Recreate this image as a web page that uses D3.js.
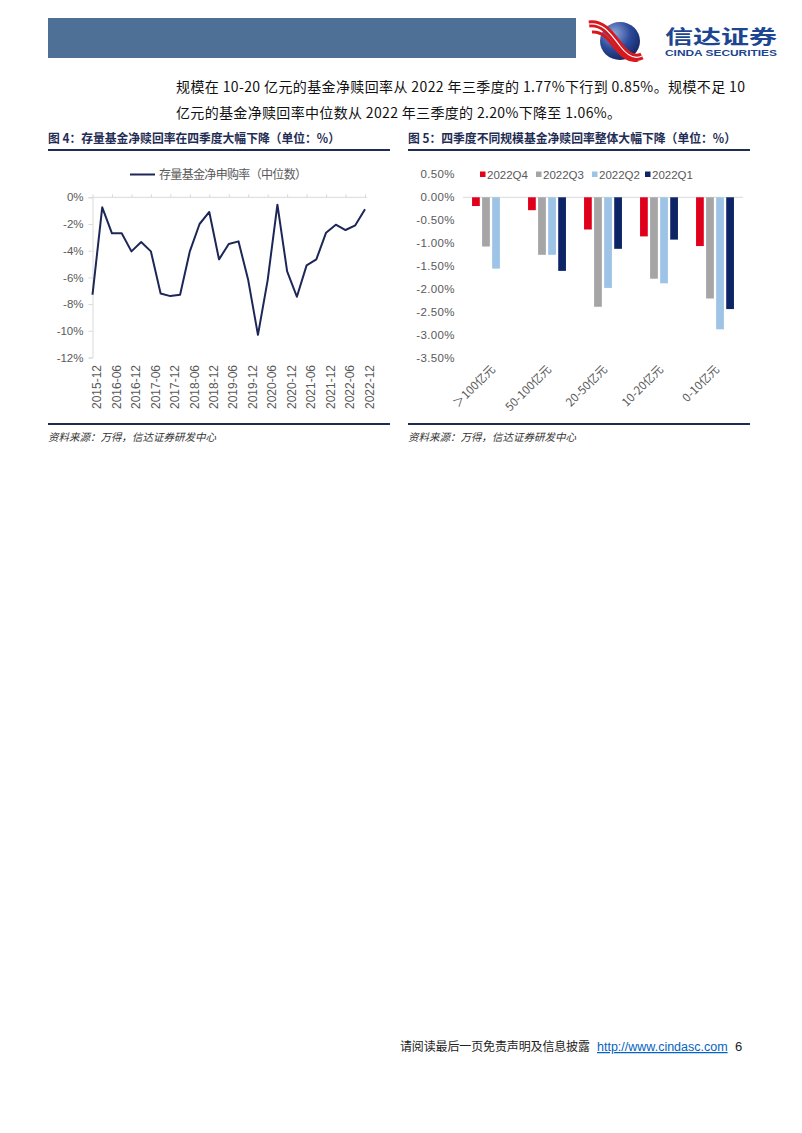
<!DOCTYPE html>
<html><head><meta charset="utf-8">
<script src="https://cdn.jsdelivr.net/npm/d3@7"></script>
<style>
html,body{margin:0;padding:0;background:#fff;}
svg text{font-family:"Noto Sans CJK SC","Noto Sans",sans-serif;}
</style></head>
<body><svg id="page" width="802" height="1133"></svg>
<script>
// ---------- data ----------
const quarters = ["2015-12","2016-03","2016-06","2016-09","2016-12","2017-03","2017-06","2017-09","2017-12","2018-03","2018-06","2018-09","2018-12","2019-03","2019-06","2019-09","2019-12","2020-03","2020-06","2020-09","2020-12","2021-03","2021-06","2021-09","2021-12","2022-03","2022-06","2022-09","2022-12"];
const netRedemption = [-7.3,-0.75,-2.7,-2.7,-4.05,-3.35,-4.05,-7.2,-7.4,-7.3,-4.05,-2.0,-1.1,-4.65,-3.5,-3.3,-6.2,-10.3,-6.2,-0.55,-5.55,-7.45,-5.1,-4.65,-2.65,-2.05,-2.45,-2.1,-0.9];
const lineTicks = [0,-2,-4,-6,-8,-10,-12];
const lineTickLabels = ["0%","-2%","-4%","-6%","-8%","-10%","-12%"];
const lineSeriesName = "存量基金净申购率（中位数）";

const sizeCats = ["＞100亿元","50-100亿元","20-50亿元","10-20亿元","0-10亿元"];
const seriesNames = ["2022Q4","2022Q3","2022Q2","2022Q1"];
const q4 = [-0.19,-0.28,-0.70,-0.85,-1.06];
const q3 = [-1.07,-1.25,-2.38,-1.77,-2.20];
const q2 = [-1.55,-1.25,-1.97,-1.87,-2.87];
const q1 = [null,-1.60,-1.12,-0.92,-2.43];
const barTicks = [0.5,0,-0.5,-1,-1.5,-2,-2.5,-3,-3.5];
const barTickLabels = ["0.50%","0.00%","-0.50%","-1.00%","-1.50%","-2.00%","-2.50%","-3.00%","-3.50%"];
const seriesColors = ["#e0001b","#a5a5a5","#9dc3e6","#0d2466"];

const para1 = "规模在 10-20 亿元的基金净赎回率从 2022 年三季度的 1.77%下行到 0.85%。规模不足 10";
const para2 = "亿元的基金净赎回率中位数从 2022 年三季度的 2.20%下降至 1.06%。";
const title1 = "图 4：存量基金净赎回率在四季度大幅下降（单位：%）";
const title2 = "图 5：四季度不同规模基金净赎回率整体大幅下降（单位：%）";
const sourceText = "资料来源：万得，信达证券研发中心";

// ---------- page ----------
const svg = d3.select("#page");
svg.append("rect").attr("width",802).attr("height",1133).attr("fill","#fff");

// header
svg.append("rect").attr("x",48).attr("y",18).attr("width",528).attr("height",40).attr("fill","#4e7097");
const defs = svg.append("defs");
const rg = defs.append("radialGradient").attr("id","sph").attr("cx","35%").attr("cy","30%").attr("r","75%");
rg.append("stop").attr("offset","0%").attr("stop-color","#8fa6d8");
rg.append("stop").attr("offset","55%").attr("stop-color","#2d4a9a");
rg.append("stop").attr("offset","100%").attr("stop-color","#142664");
svg.append("ellipse").attr("cx",620).attr("cy",41).attr("rx",20).attr("ry",19).attr("fill","url(#sph)");
const rib = svg.append("g");
rib.append("path").attr("d","M589,24 C604,22 612,36 620,46 C626,54 634,60 642,56").attr("fill","none").attr("stroke","#d7191f").attr("stroke-width",7);
rib.append("path").attr("d","M589,24 C604,22 612,36 620,46 C626,54 634,60 642,56").attr("fill","none").attr("stroke","#fff").attr("stroke-width",1.2);
rib.append("path").attr("d","M592,32 C604,31 610,42 617,50 C622,56 630,62 638,60").attr("fill","none").attr("stroke","#d7191f").attr("stroke-width",3);
svg.append("text").attr("x",665).attr("y",44).attr("font-size",19).attr("font-weight",700).attr("fill","#1c4592")
  .attr("textLength",112).attr("lengthAdjust","spacingAndGlyphs").text("信达证券");
svg.append("text").attr("x",665).attr("y",56).attr("font-size",8.5).attr("font-weight",700).attr("fill","#1c4592")
  .style("font-family","Liberation Sans, Arial, sans-serif")
  .attr("textLength",112).attr("lengthAdjust","spacingAndGlyphs").text("CINDA SECURITIES");

// paragraph
svg.append("text").attr("x",176).attr("y",92).attr("font-size",14).attr("fill","#111")
  .attr("textLength",569).attr("lengthAdjust","spacing").text(para1);
svg.append("text").attr("x",176).attr("y",118).attr("font-size",14).attr("fill","#111")
  .attr("textLength",445).attr("lengthAdjust","spacing").text(para2);

// titles & rules
function titleBlock(x0, x1, t, w){
  svg.append("text").attr("x",x0).attr("y",142.5).attr("font-size",12.5).attr("font-weight",700).attr("fill","#1f2d55")
    .attr("textLength",w).attr("lengthAdjust","spacingAndGlyphs").text(t);
  svg.append("line").attr("x1",x0).attr("x2",x1).attr("y1",150).attr("y2",150).attr("stroke","#1f2d55").attr("stroke-width",2);
  svg.append("line").attr("x1",x0).attr("x2",x1).attr("y1",424).attr("y2",424).attr("stroke","#1f2d55").attr("stroke-width",2);
  svg.append("text").attr("x",x0).attr("y",441).attr("font-size",10.5).attr("font-style","italic").attr("fill","#333").text(sourceText);
}
titleBlock(48, 390, title1, 292);
titleBlock(408, 750, title2, 328);

// ---------- chart 1: line ----------
const grey = "#595959", axisCol = "#d9d9d9";
const x1 = d3.scalePoint().domain(quarters).range([92.5,365]);
const y1 = d3.scaleLinear().domain([-12,0]).range([357.5,197.3]);
const c1 = svg.append("g");
const ya1 = c1.append("g").attr("transform","translate(92.5,0)")
  .call(d3.axisLeft(y1).tickValues(lineTicks).tickFormat((d,i)=>lineTickLabels[i]).tickSize(4).tickPadding(5));
ya1.select(".domain").attr("stroke",axisCol);
ya1.selectAll(".tick line").attr("stroke",axisCol);
ya1.selectAll(".tick text").attr("fill",grey).attr("font-size",11.5).style("font-family","Liberation Sans, Arial, sans-serif");
const evenQ = quarters.filter((d,i)=>i%2===0);
const xa1 = c1.append("g").attr("transform",`translate(0,${y1(0)})`)
  .call(d3.axisTop(x1).tickValues(evenQ).tickSize(3).tickFormat(""));
xa1.select(".domain").attr("stroke",axisCol).attr("d",`M92.5,0H367`);
xa1.selectAll(".tick line").attr("stroke",axisCol);
c1.append("g").selectAll("text").data(evenQ).join("text")
  .attr("transform",d=>`translate(${x1(d)+4.5},365) rotate(-90)`)
  .attr("text-anchor","end").attr("dy","0.35em").attr("font-size",12).attr("fill",grey)
  .style("font-family","Liberation Sans, Arial, sans-serif").text(d=>d);
c1.append("path").datum(netRedemption)
  .attr("d",d3.line().x((d,i)=>x1(quarters[i])).y(d=>y1(d)))
  .attr("fill","none").attr("stroke","#1c2757").attr("stroke-width",2).attr("stroke-linejoin","round");
c1.append("line").attr("x1",130).attr("x2",155).attr("y1",174.5).attr("y2",174.5).attr("stroke","#1c2757").attr("stroke-width",2);
c1.append("text").attr("x",159).attr("y",178.5).attr("font-size",12).attr("fill",grey)
  .attr("textLength",148).attr("lengthAdjust","spacing").text(lineSeriesName);

// ---------- chart 2: bars ----------
const allSeries = [q4,q3,q2,q1];
const x2 = d3.scaleBand().domain(sizeCats).range([463,743]).padding(0);
const xs = d3.scaleBand().domain(seriesNames).range([0,x2.bandwidth()]).paddingInner(0.23).paddingOuter(0.9);
const y2 = d3.scaleLinear().domain([-3.5,0.5]).range([358.3,174.3]);
const c2 = svg.append("g");
const ya2 = c2.append("g").attr("transform","translate(463,0)")
  .call(d3.axisLeft(y2).tickValues(barTicks).tickFormat((d,i)=>barTickLabels[i]).tickSize(0).tickPadding(8));
ya2.select(".domain").remove();
ya2.selectAll(".tick text").attr("fill",grey).attr("font-size",11.5).attr("letter-spacing","0.4")
  .style("font-family","Liberation Sans, Arial, sans-serif");
c2.append("line").attr("x1",463).attr("x2",743).attr("y1",y2(0)).attr("y2",y2(0)).attr("stroke",axisCol);
seriesNames.forEach((s,si)=>{
  c2.append("g").selectAll("rect").data(sizeCats.map((c,ci)=>({c,v:allSeries[si][ci]})).filter(d=>d.v!==null)).join("rect")
    .attr("x",d=>x2(d.c)+xs(s)).attr("width",xs.bandwidth())
    .attr("y",d=>y2(Math.max(0,d.v))).attr("height",d=>Math.abs(y2(d.v)-y2(0)))
    .attr("fill",seriesColors[si]);
});
c2.append("g").selectAll("text").data(sizeCats).join("text")
  .attr("transform",d=>`translate(${x2(d)+x2.bandwidth()/2+5},370) rotate(-45)`)
  .attr("text-anchor","end").attr("font-size",11.5).attr("fill",grey).text(d=>d);
const legX = [480,536,592,645];
seriesNames.forEach((s,i)=>{
  c2.append("rect").attr("x",legX[i]).attr("y",171.5).attr("width",5.5).attr("height",5.5).attr("fill",seriesColors[i]);
  c2.append("text").attr("x",legX[i]+7).attr("y",178.5).attr("font-size",11.5).attr("fill",grey)
    .style("font-family","Liberation Sans, Arial, sans-serif").text(s);
});

// footer
svg.append("text").attr("x",400).attr("y",1051).attr("font-size",12).attr("fill","#222")
  .attr("textLength",190).attr("lengthAdjust","spacing").text("请阅读最后一页免责声明及信息披露");
svg.append("text").attr("x",597).attr("y",1051).attr("font-size",12.5).attr("fill","#0563c1")
  .attr("text-decoration","underline").style("font-family","Liberation Sans, Arial, sans-serif").text("http://www.cindasc.com");
svg.append("text").attr("x",735).attr("y",1051).attr("font-size",13).attr("fill","#222")
  .style("font-family","Liberation Sans, Arial, sans-serif").text("6");
</script></body></html>
